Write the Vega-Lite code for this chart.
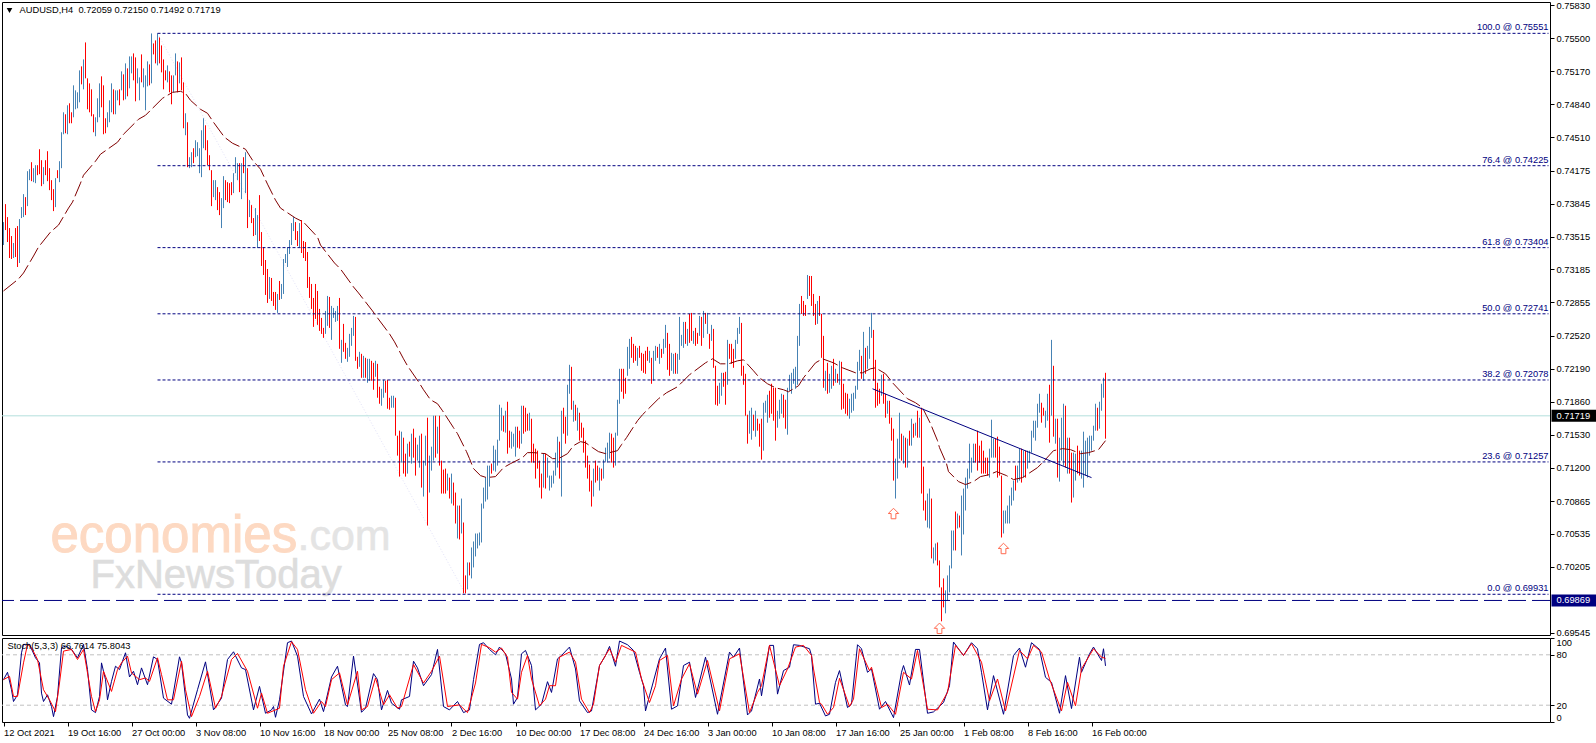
{"$schema":"https://vega.github.io/schema/vega-lite/v6.json","background":"white","padding":{"left":1,"top":0,"right":0,"bottom":0},"bounds":"flush","spacing":3,
"config":{"view":{"stroke":"#000000","strokeWidth":1},"font":"Liberation Sans","axis":{"labelFont":"Liberation Sans","labelFontSize":9.3,"labelColor":"#000000","tickColor":"#000000","tickSize":4,"domain":false,"grid":false,"title":null,"labelPadding":2,"labelOverlap":false,"labelBound":false}},
"datasets":{
"fib":[{"v":0.75551,"t":"100.0 @ 0.75551"},{"v":0.74225,"t":"76.4 @ 0.74225"},{"v":0.73404,"t":"61.8 @ 0.73404"},{"v":0.72741,"t":"50.0 @ 0.72741"},{"v":0.72078,"t":"38.2 @ 0.72078"},{"v":0.71257,"t":"23.6 @ 0.71257"},{"v":0.69931,"t":"0.0 @ 0.69931"}],
"bars":[{"i":0,"h":0.7366,"l":0.7343,"c":"u"},{"i":1,"h":0.7384,"l":0.7358,"c":"d"},{"i":2,"h":0.7371,"l":0.7346,"c":"d"},{"i":3,"h":0.7360,"l":0.7330,"c":"d"},{"i":4,"h":0.7352,"l":0.7329,"c":"d"},{"i":5,"h":0.7345,"l":0.7330,"c":"u"},{"i":6,"h":0.7360,"l":0.7331,"c":"d"},{"i":7,"h":0.7362,"l":0.7321,"c":"d"},{"i":8,"h":0.7369,"l":0.7325,"c":"u"},{"i":9,"h":0.7381,"l":0.7370,"c":"u"},{"i":10,"h":0.7394,"l":0.7371,"c":"u"},{"i":11,"h":0.7391,"l":0.7373,"c":"d"},{"i":12,"h":0.7417,"l":0.7382,"c":"u"},{"i":13,"h":0.7419,"l":0.7408,"c":"u"},{"i":14,"h":0.7426,"l":0.7407,"c":"d"},{"i":15,"h":0.7420,"l":0.7406,"c":"u"},{"i":16,"h":0.7423,"l":0.7405,"c":"u"},{"i":17,"h":0.7423,"l":0.7413,"c":"d"},{"i":18,"h":0.7439,"l":0.7414,"c":"d"},{"i":19,"h":0.7428,"l":0.7402,"c":"d"},{"i":20,"h":0.7421,"l":0.7404,"c":"u"},{"i":21,"h":0.7428,"l":0.7413,"c":"d"},{"i":22,"h":0.7437,"l":0.7407,"c":"d"},{"i":23,"h":0.7420,"l":0.7398,"c":"d"},{"i":24,"h":0.7408,"l":0.7388,"c":"d"},{"i":25,"h":0.7399,"l":0.7377,"c":"d"},{"i":26,"h":0.7410,"l":0.7381,"c":"u"},{"i":27,"h":0.7418,"l":0.7410,"c":"d"},{"i":28,"h":0.7427,"l":0.7406,"c":"u"},{"i":29,"h":0.7456,"l":0.7420,"c":"u"},{"i":30,"h":0.7476,"l":0.7454,"c":"u"},{"i":31,"h":0.7474,"l":0.7455,"c":"d"},{"i":32,"h":0.7483,"l":0.7454,"c":"u"},{"i":33,"h":0.7485,"l":0.7465,"c":"d"},{"i":34,"h":0.7476,"l":0.7465,"c":"d"},{"i":35,"h":0.7503,"l":0.7471,"c":"u"},{"i":36,"h":0.7498,"l":0.7479,"c":"u"},{"i":37,"h":0.7496,"l":0.7480,"c":"u"},{"i":38,"h":0.7518,"l":0.7486,"c":"u"},{"i":39,"h":0.7522,"l":0.7504,"c":"d"},{"i":40,"h":0.7529,"l":0.7499,"c":"u"},{"i":41,"h":0.7546,"l":0.7510,"c":"d"},{"i":42,"h":0.7510,"l":0.7479,"c":"d"},{"i":43,"h":0.7505,"l":0.7476,"c":"d"},{"i":44,"h":0.7499,"l":0.7472,"c":"d"},{"i":45,"h":0.7474,"l":0.7456,"c":"d"},{"i":46,"h":0.7471,"l":0.7452,"c":"u"},{"i":47,"h":0.7490,"l":0.7466,"c":"u"},{"i":48,"h":0.7505,"l":0.7471,"c":"u"},{"i":49,"h":0.7512,"l":0.7481,"c":"d"},{"i":50,"h":0.7503,"l":0.7454,"c":"d"},{"i":51,"h":0.7470,"l":0.7455,"c":"d"},{"i":52,"h":0.7476,"l":0.7461,"c":"u"},{"i":53,"h":0.7488,"l":0.7466,"c":"u"},{"i":54,"h":0.7505,"l":0.7476,"c":"u"},{"i":55,"h":0.7499,"l":0.7474,"c":"d"},{"i":56,"h":0.7498,"l":0.7474,"c":"u"},{"i":57,"h":0.7498,"l":0.7488,"c":"u"},{"i":58,"h":0.7499,"l":0.7483,"c":"d"},{"i":59,"h":0.7517,"l":0.7498,"c":"u"},{"i":60,"h":0.7514,"l":0.7488,"c":"d"},{"i":61,"h":0.7525,"l":0.7489,"c":"u"},{"i":62,"h":0.7520,"l":0.7492,"c":"d"},{"i":63,"h":0.7532,"l":0.7500,"c":"u"},{"i":64,"h":0.7532,"l":0.7515,"c":"u"},{"i":65,"h":0.7535,"l":0.7508,"c":"d"},{"i":66,"h":0.7531,"l":0.7487,"c":"d"},{"i":67,"h":0.7520,"l":0.7505,"c":"u"},{"i":68,"h":0.7511,"l":0.7488,"c":"u"},{"i":69,"h":0.7534,"l":0.7506,"c":"d"},{"i":70,"h":0.7520,"l":0.7501,"c":"u"},{"i":71,"h":0.7513,"l":0.7478,"c":"u"},{"i":72,"h":0.7527,"l":0.7502,"c":"u"},{"i":73,"h":0.7524,"l":0.7503,"c":"d"},{"i":74,"h":0.7555,"l":0.7505,"c":"u"},{"i":75,"h":0.7545,"l":0.7534,"c":"d"},{"i":76,"h":0.7548,"l":0.7525,"c":"d"},{"i":77,"h":0.7555,"l":0.7523,"c":"u"},{"i":78,"h":0.7551,"l":0.7525,"c":"d"},{"i":79,"h":0.7543,"l":0.7516,"c":"d"},{"i":80,"h":0.7529,"l":0.7499,"c":"d"},{"i":81,"h":0.7518,"l":0.7508,"c":"d"},{"i":82,"h":0.7523,"l":0.7506,"c":"u"},{"i":83,"h":0.7517,"l":0.7496,"c":"d"},{"i":84,"h":0.7513,"l":0.7484,"c":"d"},{"i":85,"h":0.7513,"l":0.7496,"c":"u"},{"i":86,"h":0.7535,"l":0.7513,"c":"u"},{"i":87,"h":0.7527,"l":0.7496,"c":"d"},{"i":88,"h":0.7526,"l":0.7505,"c":"u"},{"i":89,"h":0.7531,"l":0.7498,"c":"d"},{"i":90,"h":0.7506,"l":0.7460,"c":"d"},{"i":91,"h":0.7475,"l":0.7453,"c":"u"},{"i":92,"h":0.7466,"l":0.7421,"c":"d"},{"i":93,"h":0.7431,"l":0.7420,"c":"u"},{"i":94,"h":0.7436,"l":0.7421,"c":"u"},{"i":95,"h":0.7440,"l":0.7425,"c":"d"},{"i":96,"h":0.7448,"l":0.7431,"c":"u"},{"i":97,"h":0.7446,"l":0.7432,"c":"u"},{"i":98,"h":0.7440,"l":0.7415,"c":"u"},{"i":99,"h":0.7458,"l":0.7411,"c":"u"},{"i":100,"h":0.7470,"l":0.7440,"c":"u"},{"i":101,"h":0.7463,"l":0.7438,"c":"d"},{"i":102,"h":0.7448,"l":0.7423,"c":"d"},{"i":103,"h":0.7433,"l":0.7418,"c":"d"},{"i":104,"h":0.7418,"l":0.7382,"c":"d"},{"i":105,"h":0.7408,"l":0.7391,"c":"u"},{"i":106,"h":0.7408,"l":0.7388,"c":"u"},{"i":107,"h":0.7401,"l":0.7378,"c":"d"},{"i":108,"h":0.7396,"l":0.7373,"c":"d"},{"i":109,"h":0.7390,"l":0.7360,"c":"u"},{"i":110,"h":0.7412,"l":0.7380,"c":"u"},{"i":111,"h":0.7408,"l":0.7388,"c":"d"},{"i":112,"h":0.7406,"l":0.7386,"c":"d"},{"i":113,"h":0.7405,"l":0.7385,"c":"d"},{"i":114,"h":0.7406,"l":0.7393,"c":"d"},{"i":115,"h":0.7415,"l":0.7395,"c":"u"},{"i":116,"h":0.7431,"l":0.7415,"c":"u"},{"i":117,"h":0.7425,"l":0.7408,"c":"u"},{"i":118,"h":0.7425,"l":0.7396,"c":"d"},{"i":119,"h":0.7425,"l":0.7389,"c":"u"},{"i":120,"h":0.7431,"l":0.7415,"c":"d"},{"i":121,"h":0.7436,"l":0.7395,"c":"u"},{"i":122,"h":0.7420,"l":0.7360,"c":"d"},{"i":123,"h":0.7388,"l":0.7371,"c":"u"},{"i":124,"h":0.7383,"l":0.7365,"c":"d"},{"i":125,"h":0.7370,"l":0.7352,"c":"d"},{"i":126,"h":0.7380,"l":0.7353,"c":"u"},{"i":127,"h":0.7373,"l":0.7340,"c":"u"},{"i":128,"h":0.7393,"l":0.7347,"c":"d"},{"i":129,"h":0.7356,"l":0.7322,"c":"d"},{"i":130,"h":0.7341,"l":0.7313,"c":"d"},{"i":131,"h":0.7328,"l":0.7293,"c":"d"},{"i":132,"h":0.7319,"l":0.7285,"c":"d"},{"i":133,"h":0.7311,"l":0.7289,"c":"u"},{"i":134,"h":0.7310,"l":0.7287,"c":"d"},{"i":135,"h":0.7296,"l":0.7282,"c":"d"},{"i":136,"h":0.7296,"l":0.7278,"c":"d"},{"i":137,"h":0.7294,"l":0.7275,"c":"u"},{"i":138,"h":0.7307,"l":0.7288,"c":"d"},{"i":139,"h":0.7304,"l":0.7289,"c":"u"},{"i":140,"h":0.7329,"l":0.7294,"c":"u"},{"i":141,"h":0.7334,"l":0.7325,"c":"u"},{"i":142,"h":0.7341,"l":0.7321,"c":"u"},{"i":143,"h":0.7348,"l":0.7334,"c":"u"},{"i":144,"h":0.7365,"l":0.7343,"c":"u"},{"i":145,"h":0.7371,"l":0.7357,"c":"u"},{"i":146,"h":0.7366,"l":0.7348,"c":"d"},{"i":147,"h":0.7357,"l":0.7342,"c":"d"},{"i":148,"h":0.7365,"l":0.7341,"c":"u"},{"i":149,"h":0.7368,"l":0.7335,"c":"d"},{"i":150,"h":0.7347,"l":0.7330,"c":"d"},{"i":151,"h":0.7346,"l":0.7327,"c":"d"},{"i":152,"h":0.7336,"l":0.7300,"c":"d"},{"i":153,"h":0.7311,"l":0.7290,"c":"d"},{"i":154,"h":0.7304,"l":0.7279,"c":"d"},{"i":155,"h":0.7290,"l":0.7261,"c":"d"},{"i":156,"h":0.7304,"l":0.7269,"c":"d"},{"i":157,"h":0.7297,"l":0.7263,"c":"d"},{"i":158,"h":0.7279,"l":0.7257,"c":"d"},{"i":159,"h":0.7270,"l":0.7254,"c":"d"},{"i":160,"h":0.7260,"l":0.7250,"c":"d"},{"i":161,"h":0.7277,"l":0.7254,"c":"u"},{"i":162,"h":0.7292,"l":0.7262,"c":"u"},{"i":163,"h":0.7291,"l":0.7260,"c":"d"},{"i":164,"h":0.7282,"l":0.7248,"c":"u"},{"i":165,"h":0.7280,"l":0.7270,"c":"u"},{"i":166,"h":0.7277,"l":0.7266,"c":"u"},{"i":167,"h":0.7282,"l":0.7267,"c":"u"},{"i":168,"h":0.7290,"l":0.7239,"c":"d"},{"i":169,"h":0.7248,"l":0.7225,"c":"u"},{"i":170,"h":0.7264,"l":0.7236,"c":"d"},{"i":171,"h":0.7245,"l":0.7229,"c":"d"},{"i":172,"h":0.7240,"l":0.7226,"c":"u"},{"i":173,"h":0.7254,"l":0.7231,"c":"u"},{"i":174,"h":0.7260,"l":0.7242,"c":"u"},{"i":175,"h":0.7272,"l":0.7252,"c":"u"},{"i":176,"h":0.7271,"l":0.7227,"c":"d"},{"i":177,"h":0.7231,"l":0.7219,"c":"d"},{"i":178,"h":0.7236,"l":0.7221,"c":"u"},{"i":179,"h":0.7234,"l":0.7210,"c":"d"},{"i":180,"h":0.7232,"l":0.7210,"c":"u"},{"i":181,"h":0.7230,"l":0.7210,"c":"d"},{"i":182,"h":0.7229,"l":0.7205,"c":"u"},{"i":183,"h":0.7229,"l":0.7207,"c":"u"},{"i":184,"h":0.7227,"l":0.7207,"c":"d"},{"i":185,"h":0.7225,"l":0.7198,"c":"d"},{"i":186,"h":0.7227,"l":0.7211,"c":"u"},{"i":187,"h":0.7224,"l":0.7190,"c":"d"},{"i":188,"h":0.7201,"l":0.7184,"c":"d"},{"i":189,"h":0.7199,"l":0.7182,"c":"u"},{"i":190,"h":0.7208,"l":0.7190,"c":"u"},{"i":191,"h":0.7207,"l":0.7195,"c":"d"},{"i":192,"h":0.7208,"l":0.7179,"c":"d"},{"i":193,"h":0.7190,"l":0.7178,"c":"d"},{"i":194,"h":0.7192,"l":0.7180,"c":"u"},{"i":195,"h":0.7192,"l":0.7180,"c":"u"},{"i":196,"h":0.7190,"l":0.7152,"c":"d"},{"i":197,"h":0.7152,"l":0.7132,"c":"d"},{"i":198,"h":0.7157,"l":0.7111,"c":"d"},{"i":199,"h":0.7156,"l":0.7125,"c":"u"},{"i":200,"h":0.7150,"l":0.7114,"c":"d"},{"i":201,"h":0.7134,"l":0.7111,"c":"d"},{"i":202,"h":0.7144,"l":0.7114,"c":"u"},{"i":203,"h":0.7146,"l":0.7131,"c":"d"},{"i":204,"h":0.7154,"l":0.7124,"c":"u"},{"i":205,"h":0.7159,"l":0.7130,"c":"d"},{"i":206,"h":0.7150,"l":0.7112,"c":"d"},{"i":207,"h":0.7143,"l":0.7127,"c":"u"},{"i":208,"h":0.7152,"l":0.7120,"c":"u"},{"i":209,"h":0.7154,"l":0.7100,"c":"d"},{"i":210,"h":0.7127,"l":0.7091,"c":"u"},{"i":211,"h":0.7152,"l":0.7122,"c":"u"},{"i":212,"h":0.7170,"l":0.7062,"c":"d"},{"i":213,"h":0.7132,"l":0.7095,"c":"u"},{"i":214,"h":0.7141,"l":0.7117,"c":"u"},{"i":215,"h":0.7172,"l":0.7127,"c":"u"},{"i":216,"h":0.7172,"l":0.7130,"c":"d"},{"i":217,"h":0.7161,"l":0.7134,"c":"u"},{"i":218,"h":0.7172,"l":0.7122,"c":"d"},{"i":219,"h":0.7127,"l":0.7094,"c":"d"},{"i":220,"h":0.7118,"l":0.7094,"c":"d"},{"i":221,"h":0.7119,"l":0.7094,"c":"d"},{"i":222,"h":0.7114,"l":0.7097,"c":"u"},{"i":223,"h":0.7110,"l":0.7089,"c":"d"},{"i":224,"h":0.7114,"l":0.7084,"c":"u"},{"i":225,"h":0.7105,"l":0.7082,"c":"d"},{"i":226,"h":0.7095,"l":0.7064,"c":"d"},{"i":227,"h":0.7082,"l":0.7049,"c":"u"},{"i":228,"h":0.7082,"l":0.7048,"c":"d"},{"i":229,"h":0.7089,"l":0.7054,"c":"u"},{"i":230,"h":0.7065,"l":0.6994,"c":"d"},{"i":231,"h":0.7012,"l":0.6994,"c":"d"},{"i":232,"h":0.7025,"l":0.6998,"c":"u"},{"i":233,"h":0.7025,"l":0.7012,"c":"d"},{"i":234,"h":0.7040,"l":0.7009,"c":"u"},{"i":235,"h":0.7046,"l":0.7020,"c":"u"},{"i":236,"h":0.7054,"l":0.7031,"c":"u"},{"i":237,"h":0.7054,"l":0.7039,"c":"u"},{"i":238,"h":0.7055,"l":0.7042,"c":"u"},{"i":239,"h":0.7084,"l":0.7045,"c":"u"},{"i":240,"h":0.7100,"l":0.7079,"c":"u"},{"i":241,"h":0.7110,"l":0.7086,"c":"u"},{"i":242,"h":0.7122,"l":0.7088,"c":"u"},{"i":243,"h":0.7122,"l":0.7101,"c":"u"},{"i":244,"h":0.7124,"l":0.7114,"c":"d"},{"i":245,"h":0.7142,"l":0.7117,"c":"u"},{"i":246,"h":0.7138,"l":0.7116,"c":"u"},{"i":247,"h":0.7148,"l":0.7122,"c":"u"},{"i":248,"h":0.7183,"l":0.7147,"c":"u"},{"i":249,"h":0.7180,"l":0.7157,"c":"u"},{"i":250,"h":0.7172,"l":0.7156,"c":"d"},{"i":251,"h":0.7177,"l":0.7155,"c":"u"},{"i":252,"h":0.7186,"l":0.7134,"c":"d"},{"i":253,"h":0.7157,"l":0.7140,"c":"d"},{"i":254,"h":0.7156,"l":0.7139,"c":"u"},{"i":255,"h":0.7154,"l":0.7141,"c":"u"},{"i":256,"h":0.7161,"l":0.7131,"c":"u"},{"i":257,"h":0.7161,"l":0.7140,"c":"d"},{"i":258,"h":0.7157,"l":0.7139,"c":"d"},{"i":259,"h":0.7182,"l":0.7144,"c":"u"},{"i":260,"h":0.7182,"l":0.7154,"c":"d"},{"i":261,"h":0.7180,"l":0.7156,"c":"d"},{"i":262,"h":0.7174,"l":0.7157,"c":"d"},{"i":263,"h":0.7175,"l":0.7157,"c":"u"},{"i":264,"h":0.7169,"l":0.7125,"c":"d"},{"i":265,"h":0.7144,"l":0.7125,"c":"d"},{"i":266,"h":0.7139,"l":0.7109,"c":"d"},{"i":267,"h":0.7137,"l":0.7119,"c":"d"},{"i":268,"h":0.7127,"l":0.7100,"c":"d"},{"i":269,"h":0.7114,"l":0.7089,"c":"d"},{"i":270,"h":0.7134,"l":0.7100,"c":"u"},{"i":271,"h":0.7134,"l":0.7099,"c":"d"},{"i":272,"h":0.7130,"l":0.7110,"c":"u"},{"i":273,"h":0.7112,"l":0.7097,"c":"u"},{"i":274,"h":0.7112,"l":0.7100,"c":"u"},{"i":275,"h":0.7117,"l":0.7104,"c":"u"},{"i":276,"h":0.7135,"l":0.7112,"c":"u"},{"i":277,"h":0.7151,"l":0.7120,"c":"u"},{"i":278,"h":0.7146,"l":0.7109,"c":"d"},{"i":279,"h":0.7177,"l":0.7091,"c":"u"},{"i":280,"h":0.7180,"l":0.7154,"c":"d"},{"i":281,"h":0.7171,"l":0.7144,"c":"d"},{"i":282,"h":0.7203,"l":0.7152,"c":"u"},{"i":283,"h":0.7223,"l":0.7194,"c":"u"},{"i":284,"h":0.7221,"l":0.7178,"c":"d"},{"i":285,"h":0.7187,"l":0.7166,"c":"u"},{"i":286,"h":0.7183,"l":0.7167,"c":"d"},{"i":287,"h":0.7180,"l":0.7157,"c":"u"},{"i":288,"h":0.7175,"l":0.7147,"c":"d"},{"i":289,"h":0.7165,"l":0.7150,"c":"d"},{"i":290,"h":0.7160,"l":0.7135,"c":"d"},{"i":291,"h":0.7147,"l":0.7120,"c":"d"},{"i":292,"h":0.7132,"l":0.7109,"c":"d"},{"i":293,"h":0.7123,"l":0.7096,"c":"d"},{"i":294,"h":0.7107,"l":0.7081,"c":"d"},{"i":295,"h":0.7119,"l":0.7091,"c":"u"},{"i":296,"h":0.7127,"l":0.7105,"c":"d"},{"i":297,"h":0.7122,"l":0.7107,"c":"d"},{"i":298,"h":0.7120,"l":0.7097,"c":"u"},{"i":299,"h":0.7119,"l":0.7107,"c":"d"},{"i":300,"h":0.7128,"l":0.7109,"c":"u"},{"i":301,"h":0.7140,"l":0.7126,"c":"u"},{"i":302,"h":0.7145,"l":0.7125,"c":"u"},{"i":303,"h":0.7155,"l":0.7129,"c":"u"},{"i":304,"h":0.7154,"l":0.7125,"c":"d"},{"i":305,"h":0.7150,"l":0.7120,"c":"d"},{"i":306,"h":0.7155,"l":0.7122,"c":"u"},{"i":307,"h":0.7188,"l":0.7152,"c":"u"},{"i":308,"h":0.7219,"l":0.7184,"c":"u"},{"i":309,"h":0.7219,"l":0.7196,"c":"d"},{"i":310,"h":0.7219,"l":0.7189,"c":"d"},{"i":311,"h":0.7210,"l":0.7194,"c":"d"},{"i":312,"h":0.7241,"l":0.7212,"c":"u"},{"i":313,"h":0.7249,"l":0.7219,"c":"u"},{"i":314,"h":0.7251,"l":0.7230,"c":"d"},{"i":315,"h":0.7244,"l":0.7225,"c":"d"},{"i":316,"h":0.7242,"l":0.7227,"c":"d"},{"i":317,"h":0.7240,"l":0.7222,"c":"u"},{"i":318,"h":0.7242,"l":0.7230,"c":"d"},{"i":319,"h":0.7235,"l":0.7217,"c":"d"},{"i":320,"h":0.7234,"l":0.7215,"c":"d"},{"i":321,"h":0.7237,"l":0.7214,"c":"d"},{"i":322,"h":0.7241,"l":0.7227,"c":"d"},{"i":323,"h":0.7237,"l":0.7225,"c":"u"},{"i":324,"h":0.7230,"l":0.7204,"c":"d"},{"i":325,"h":0.7237,"l":0.7207,"c":"u"},{"i":326,"h":0.7242,"l":0.7227,"c":"u"},{"i":327,"h":0.7241,"l":0.7230,"c":"d"},{"i":328,"h":0.7244,"l":0.7224,"c":"u"},{"i":329,"h":0.7239,"l":0.7230,"c":"d"},{"i":330,"h":0.7249,"l":0.7234,"c":"u"},{"i":331,"h":0.7263,"l":0.7240,"c":"u"},{"i":332,"h":0.7255,"l":0.7218,"c":"d"},{"i":333,"h":0.7244,"l":0.7212,"c":"d"},{"i":334,"h":0.7235,"l":0.7217,"c":"u"},{"i":335,"h":0.7234,"l":0.7214,"c":"u"},{"i":336,"h":0.7235,"l":0.7214,"c":"d"},{"i":337,"h":0.7234,"l":0.7214,"c":"u"},{"i":338,"h":0.7271,"l":0.7228,"c":"u"},{"i":339,"h":0.7253,"l":0.7242,"c":"u"},{"i":340,"h":0.7266,"l":0.7240,"c":"u"},{"i":341,"h":0.7266,"l":0.7244,"c":"d"},{"i":342,"h":0.7259,"l":0.7242,"c":"u"},{"i":343,"h":0.7274,"l":0.7245,"c":"d"},{"i":344,"h":0.7275,"l":0.7247,"c":"d"},{"i":345,"h":0.7257,"l":0.7244,"c":"u"},{"i":346,"h":0.7260,"l":0.7242,"c":"d"},{"i":347,"h":0.7255,"l":0.7244,"c":"d"},{"i":348,"h":0.7272,"l":0.7252,"c":"u"},{"i":349,"h":0.7271,"l":0.7242,"c":"d"},{"i":350,"h":0.7277,"l":0.7250,"c":"u"},{"i":351,"h":0.7275,"l":0.7264,"c":"d"},{"i":352,"h":0.7275,"l":0.7254,"c":"u"},{"i":353,"h":0.7254,"l":0.7239,"c":"d"},{"i":354,"h":0.7263,"l":0.7247,"c":"u"},{"i":355,"h":0.7259,"l":0.7220,"c":"d"},{"i":356,"h":0.7222,"l":0.7183,"c":"d"},{"i":357,"h":0.7202,"l":0.7182,"c":"d"},{"i":358,"h":0.7205,"l":0.7184,"c":"u"},{"i":359,"h":0.7215,"l":0.7192,"c":"u"},{"i":360,"h":0.7215,"l":0.7201,"c":"d"},{"i":361,"h":0.7216,"l":0.7183,"c":"d"},{"i":362,"h":0.7248,"l":0.7203,"c":"u"},{"i":363,"h":0.7244,"l":0.7229,"c":"d"},{"i":364,"h":0.7244,"l":0.7224,"c":"d"},{"i":365,"h":0.7239,"l":0.7220,"c":"d"},{"i":366,"h":0.7248,"l":0.7229,"c":"u"},{"i":367,"h":0.7260,"l":0.7244,"c":"u"},{"i":368,"h":0.7271,"l":0.7254,"c":"u"},{"i":369,"h":0.7265,"l":0.7212,"c":"d"},{"i":370,"h":0.7222,"l":0.7203,"c":"d"},{"i":371,"h":0.7214,"l":0.7172,"c":"d"},{"i":372,"h":0.7173,"l":0.7144,"c":"d"},{"i":373,"h":0.7177,"l":0.7154,"c":"u"},{"i":374,"h":0.7180,"l":0.7148,"c":"u"},{"i":375,"h":0.7173,"l":0.7157,"c":"d"},{"i":376,"h":0.7177,"l":0.7151,"c":"u"},{"i":377,"h":0.7169,"l":0.7157,"c":"d"},{"i":378,"h":0.7164,"l":0.7141,"c":"d"},{"i":379,"h":0.7169,"l":0.7128,"c":"d"},{"i":380,"h":0.7185,"l":0.7137,"c":"u"},{"i":381,"h":0.7187,"l":0.7175,"c":"u"},{"i":382,"h":0.7193,"l":0.7165,"c":"u"},{"i":383,"h":0.7197,"l":0.7170,"c":"d"},{"i":384,"h":0.7204,"l":0.7174,"c":"d"},{"i":385,"h":0.7200,"l":0.7167,"c":"d"},{"i":386,"h":0.7200,"l":0.7147,"c":"d"},{"i":387,"h":0.7177,"l":0.7160,"c":"u"},{"i":388,"h":0.7188,"l":0.7169,"c":"u"},{"i":389,"h":0.7194,"l":0.7174,"c":"u"},{"i":390,"h":0.7193,"l":0.7170,"c":"d"},{"i":391,"h":0.7188,"l":0.7159,"c":"d"},{"i":392,"h":0.7200,"l":0.7153,"c":"u"},{"i":393,"h":0.7213,"l":0.7197,"c":"u"},{"i":394,"h":0.7215,"l":0.7194,"c":"u"},{"i":395,"h":0.7219,"l":0.7204,"c":"u"},{"i":396,"h":0.7221,"l":0.7199,"c":"u"},{"i":397,"h":0.7252,"l":0.7203,"c":"u"},{"i":398,"h":0.7284,"l":0.7242,"c":"u"},{"i":399,"h":0.7292,"l":0.7274,"c":"d"},{"i":400,"h":0.7287,"l":0.7272,"c":"d"},{"i":401,"h":0.7283,"l":0.7272,"c":"d"},{"i":402,"h":0.7313,"l":0.7289,"c":"u"},{"i":403,"h":0.7312,"l":0.7292,"c":"d"},{"i":404,"h":0.7312,"l":0.7282,"c":"d"},{"i":405,"h":0.7294,"l":0.7272,"c":"d"},{"i":406,"h":0.7284,"l":0.7263,"c":"d"},{"i":407,"h":0.7287,"l":0.7264,"c":"u"},{"i":408,"h":0.7292,"l":0.7272,"c":"d"},{"i":409,"h":0.7274,"l":0.7230,"c":"d"},{"i":410,"h":0.7252,"l":0.7200,"c":"d"},{"i":411,"h":0.7217,"l":0.7197,"c":"u"},{"i":412,"h":0.7225,"l":0.7194,"c":"d"},{"i":413,"h":0.7214,"l":0.7195,"c":"u"},{"i":414,"h":0.7222,"l":0.7199,"c":"u"},{"i":415,"h":0.7229,"l":0.7202,"c":"d"},{"i":416,"h":0.7219,"l":0.7205,"c":"u"},{"i":417,"h":0.7214,"l":0.7205,"c":"d"},{"i":418,"h":0.7227,"l":0.7203,"c":"u"},{"i":419,"h":0.7226,"l":0.7178,"c":"d"},{"i":420,"h":0.7204,"l":0.7179,"c":"d"},{"i":421,"h":0.7195,"l":0.7174,"c":"d"},{"i":422,"h":0.7194,"l":0.7172,"c":"d"},{"i":423,"h":0.7189,"l":0.7169,"c":"u"},{"i":424,"h":0.7194,"l":0.7175,"c":"u"},{"i":425,"h":0.7195,"l":0.7177,"c":"u"},{"i":426,"h":0.7202,"l":0.7189,"c":"u"},{"i":427,"h":0.7226,"l":0.7198,"c":"u"},{"i":428,"h":0.7238,"l":0.7217,"c":"u"},{"i":429,"h":0.7232,"l":0.7209,"c":"d"},{"i":430,"h":0.7256,"l":0.7207,"c":"u"},{"i":431,"h":0.7240,"l":0.7214,"c":"d"},{"i":432,"h":0.7242,"l":0.7219,"c":"u"},{"i":433,"h":0.7261,"l":0.7229,"c":"u"},{"i":434,"h":0.7275,"l":0.7250,"c":"u"},{"i":435,"h":0.7258,"l":0.7207,"c":"d"},{"i":436,"h":0.7228,"l":0.7180,"c":"d"},{"i":437,"h":0.7205,"l":0.7182,"c":"d"},{"i":438,"h":0.7199,"l":0.7184,"c":"d"},{"i":439,"h":0.7213,"l":0.7192,"c":"u"},{"i":440,"h":0.7214,"l":0.7184,"c":"d"},{"i":441,"h":0.7194,"l":0.7170,"c":"d"},{"i":442,"h":0.7187,"l":0.7174,"c":"u"},{"i":443,"h":0.7187,"l":0.7164,"c":"d"},{"i":444,"h":0.7170,"l":0.7147,"c":"d"},{"i":445,"h":0.7159,"l":0.7107,"c":"d"},{"i":446,"h":0.7129,"l":0.7089,"c":"u"},{"i":447,"h":0.7149,"l":0.7109,"c":"u"},{"i":448,"h":0.7175,"l":0.7129,"c":"u"},{"i":449,"h":0.7154,"l":0.7127,"c":"d"},{"i":450,"h":0.7152,"l":0.7124,"c":"u"},{"i":451,"h":0.7150,"l":0.7120,"c":"d"},{"i":452,"h":0.7149,"l":0.7120,"c":"u"},{"i":453,"h":0.7157,"l":0.7142,"c":"d"},{"i":454,"h":0.7169,"l":0.7142,"c":"u"},{"i":455,"h":0.7164,"l":0.7150,"c":"d"},{"i":456,"h":0.7165,"l":0.7152,"c":"u"},{"i":457,"h":0.7177,"l":0.7150,"c":"d"},{"i":458,"h":0.7170,"l":0.7150,"c":"u"},{"i":459,"h":0.7180,"l":0.7094,"c":"d"},{"i":460,"h":0.7121,"l":0.7077,"c":"d"},{"i":461,"h":0.7087,"l":0.7067,"c":"d"},{"i":462,"h":0.7094,"l":0.7060,"c":"u"},{"i":463,"h":0.7099,"l":0.7059,"c":"u"},{"i":464,"h":0.7089,"l":0.7029,"c":"d"},{"i":465,"h":0.7040,"l":0.7024,"c":"u"},{"i":466,"h":0.7044,"l":0.7027,"c":"u"},{"i":467,"h":0.7045,"l":0.7022,"c":"d"},{"i":468,"h":0.7027,"l":0.7000,"c":"d"},{"i":469,"h":0.7000,"l":0.6966,"c":"d"},{"i":470,"h":0.7009,"l":0.6980,"c":"d"},{"i":471,"h":0.6997,"l":0.6974,"c":"u"},{"i":472,"h":0.7012,"l":0.6987,"c":"u"},{"i":473,"h":0.7022,"l":0.6995,"c":"u"},{"i":474,"h":0.7057,"l":0.7019,"c":"u"},{"i":475,"h":0.7057,"l":0.7037,"c":"u"},{"i":476,"h":0.7076,"l":0.7037,"c":"d"},{"i":477,"h":0.7074,"l":0.7059,"c":"u"},{"i":478,"h":0.7072,"l":0.7060,"c":"d"},{"i":479,"h":0.7092,"l":0.7032,"c":"u"},{"i":480,"h":0.7099,"l":0.7053,"c":"u"},{"i":481,"h":0.7110,"l":0.7077,"c":"u"},{"i":482,"h":0.7119,"l":0.7099,"c":"u"},{"i":483,"h":0.7144,"l":0.7109,"c":"u"},{"i":484,"h":0.7130,"l":0.7115,"c":"u"},{"i":485,"h":0.7144,"l":0.7125,"c":"u"},{"i":486,"h":0.7144,"l":0.7125,"c":"d"},{"i":487,"h":0.7157,"l":0.7117,"c":"d"},{"i":488,"h":0.7142,"l":0.7125,"c":"d"},{"i":489,"h":0.7147,"l":0.7114,"c":"d"},{"i":490,"h":0.7137,"l":0.7114,"c":"d"},{"i":491,"h":0.7130,"l":0.7114,"c":"d"},{"i":492,"h":0.7130,"l":0.7112,"c":"d"},{"i":493,"h":0.7139,"l":0.7110,"c":"u"},{"i":494,"h":0.7168,"l":0.7130,"c":"u"},{"i":495,"h":0.7149,"l":0.7130,"c":"u"},{"i":496,"h":0.7149,"l":0.7130,"c":"d"},{"i":497,"h":0.7151,"l":0.7110,"c":"d"},{"i":498,"h":0.7141,"l":0.7112,"c":"d"},{"i":499,"h":0.7112,"l":0.7050,"c":"d"},{"i":500,"h":0.7077,"l":0.7054,"c":"u"},{"i":501,"h":0.7077,"l":0.7064,"c":"u"},{"i":502,"h":0.7082,"l":0.7064,"c":"u"},{"i":503,"h":0.7092,"l":0.7064,"c":"u"},{"i":504,"h":0.7100,"l":0.7082,"c":"u"},{"i":505,"h":0.7107,"l":0.7087,"c":"u"},{"i":506,"h":0.7122,"l":0.7097,"c":"d"},{"i":507,"h":0.7122,"l":0.7105,"c":"u"},{"i":508,"h":0.7139,"l":0.7107,"c":"u"},{"i":509,"h":0.7139,"l":0.7105,"c":"d"},{"i":510,"h":0.7137,"l":0.7110,"c":"u"},{"i":511,"h":0.7137,"l":0.7110,"c":"d"},{"i":512,"h":0.7137,"l":0.7119,"c":"u"},{"i":513,"h":0.7137,"l":0.7125,"c":"u"},{"i":514,"h":0.7157,"l":0.7135,"c":"u"},{"i":515,"h":0.7167,"l":0.7150,"c":"u"},{"i":516,"h":0.7167,"l":0.7147,"c":"u"},{"i":517,"h":0.7184,"l":0.7160,"c":"u"},{"i":518,"h":0.7194,"l":0.7175,"c":"u"},{"i":519,"h":0.7185,"l":0.7165,"c":"d"},{"i":520,"h":0.7180,"l":0.7172,"c":"d"},{"i":521,"h":0.7177,"l":0.7160,"c":"u"},{"i":522,"h":0.7194,"l":0.7167,"c":"u"},{"i":523,"h":0.7203,"l":0.7145,"c":"d"},{"i":524,"h":0.7248,"l":0.7172,"c":"u"},{"i":525,"h":0.7222,"l":0.7151,"c":"d"},{"i":526,"h":0.7169,"l":0.7144,"c":"u"},{"i":527,"h":0.7169,"l":0.7110,"c":"d"},{"i":528,"h":0.7150,"l":0.7106,"c":"u"},{"i":529,"h":0.7170,"l":0.7127,"c":"u"},{"i":530,"h":0.7184,"l":0.7122,"c":"u"},{"i":531,"h":0.7182,"l":0.7120,"c":"d"},{"i":532,"h":0.7150,"l":0.7114,"c":"u"},{"i":533,"h":0.7150,"l":0.7114,"c":"d"},{"i":534,"h":0.7135,"l":0.7085,"c":"d"},{"i":535,"h":0.7135,"l":0.7090,"c":"u"},{"i":536,"h":0.7134,"l":0.7107,"c":"u"},{"i":537,"h":0.7142,"l":0.7114,"c":"d"},{"i":538,"h":0.7137,"l":0.7112,"c":"d"},{"i":539,"h":0.7137,"l":0.7109,"c":"u"},{"i":540,"h":0.7156,"l":0.7100,"c":"u"},{"i":541,"h":0.7147,"l":0.7112,"c":"u"},{"i":542,"h":0.7150,"l":0.7110,"c":"u"},{"i":543,"h":0.7152,"l":0.7132,"c":"u"},{"i":544,"h":0.7152,"l":0.7137,"c":"u"},{"i":545,"h":0.7162,"l":0.7147,"c":"u"},{"i":546,"h":0.7184,"l":0.7157,"c":"u"},{"i":547,"h":0.7180,"l":0.7157,"c":"d"},{"i":548,"h":0.7186,"l":0.7159,"c":"u"},{"i":549,"h":0.7204,"l":0.7177,"c":"u"},{"i":550,"h":0.7210,"l":0.7190,"c":"u"},{"i":551,"h":0.7215,"l":0.7149,"c":"d"}],
"ma":[{"i":0,"v":0.7297},{"i":7.5,"v":0.7309},{"i":10,"v":0.7315},{"i":15,"v":0.7332},{"i":17.5,"v":0.7341},{"i":23.5,"v":0.7356},{"i":27.5,"v":0.7363},{"i":32.5,"v":0.7380},{"i":34.5,"v":0.7386},{"i":38.5,"v":0.7405},{"i":40,"v":0.7413},{"i":46,"v":0.7427},{"i":48.5,"v":0.7434},{"i":57,"v":0.7446},{"i":60,"v":0.7454},{"i":67.5,"v":0.7469},{"i":71,"v":0.7473},{"i":79.5,"v":0.7490},{"i":84.5,"v":0.7496},{"i":88.5,"v":0.7497},{"i":91,"v":0.7495},{"i":93.5,"v":0.7488},{"i":98.5,"v":0.7479},{"i":102,"v":0.7475},{"i":105,"v":0.7466},{"i":110.5,"v":0.7451},{"i":114.5,"v":0.7445},{"i":121,"v":0.7439},{"i":124.5,"v":0.7428},{"i":128.5,"v":0.7419},{"i":132,"v":0.7404},{"i":136,"v":0.7388},{"i":138.5,"v":0.7380},{"i":146,"v":0.7370},{"i":150,"v":0.7366},{"i":157,"v":0.7351},{"i":158.5,"v":0.7343},{"i":165.5,"v":0.7325},{"i":168.5,"v":0.7319},{"i":175,"v":0.7301},{"i":177.5,"v":0.7295},{"i":184.5,"v":0.7277},{"i":187,"v":0.7270},{"i":193,"v":0.7254},{"i":195.5,"v":0.7246},{"i":200,"v":0.7229},{"i":202,"v":0.7222},{"i":207.5,"v":0.7206},{"i":210,"v":0.7198},{"i":213.5,"v":0.7188},{"i":217,"v":0.7184},{"i":219.5,"v":0.7177},{"i":225,"v":0.7160},{"i":227,"v":0.7154},{"i":231.5,"v":0.7136},{"i":233,"v":0.7129},{"i":235,"v":0.7119},{"i":238.5,"v":0.7112},{"i":241.5,"v":0.7110},{"i":246,"v":0.7111},{"i":250,"v":0.7120},{"i":253.5,"v":0.7124},{"i":259.5,"v":0.7130},{"i":262,"v":0.7135},{"i":265,"v":0.7135},{"i":271,"v":0.7134},{"i":274.5,"v":0.7129},{"i":277.5,"v":0.7129},{"i":282,"v":0.7134},{"i":285,"v":0.7142},{"i":288.5,"v":0.7146},{"i":291,"v":0.7145},{"i":294.5,"v":0.7140},{"i":297.5,"v":0.7136},{"i":301,"v":0.7134},{"i":307,"v":0.7137},{"i":309,"v":0.7143},{"i":311.5,"v":0.7150},{"i":317,"v":0.7167},{"i":319.5,"v":0.7173},{"i":327.5,"v":0.7189},{"i":331.5,"v":0.7195},{"i":337,"v":0.7201},{"i":339.5,"v":0.7206},{"i":343,"v":0.7213},{"i":351,"v":0.7225},{"i":354.5,"v":0.7229},{"i":358.5,"v":0.7224},{"i":362.5,"v":0.7224},{"i":367,"v":0.7227},{"i":370,"v":0.7228},{"i":375,"v":0.7217},{"i":378,"v":0.7210},{"i":382,"v":0.7204},{"i":386,"v":0.7200},{"i":390,"v":0.7198},{"i":392.5,"v":0.7196},{"i":397.5,"v":0.7202},{"i":400,"v":0.7210},{"i":406,"v":0.7225},{"i":409.5,"v":0.7229},{"i":415,"v":0.7225},{"i":419.5,"v":0.7220},{"i":426,"v":0.7215},{"i":429.5,"v":0.7215},{"i":433.5,"v":0.7219},{"i":436,"v":0.7220},{"i":441,"v":0.7214},{"i":445,"v":0.7204},{"i":452,"v":0.7189},{"i":456,"v":0.7185},{"i":459.5,"v":0.7180},{"i":461.5,"v":0.7172},{"i":463.5,"v":0.7164},{"i":467,"v":0.7147},{"i":468,"v":0.7140},{"i":471.5,"v":0.7124},{"i":472.5,"v":0.7116},{"i":477.5,"v":0.7106},{"i":481,"v":0.7103},{"i":485,"v":0.7106},{"i":488.5,"v":0.7111},{"i":493,"v":0.7113},{"i":496.5,"v":0.7116},{"i":501.5,"v":0.7112},{"i":505,"v":0.7108},{"i":509.5,"v":0.7110},{"i":517,"v":0.7120},{"i":520,"v":0.7126},{"i":525,"v":0.7137},{"i":529.5,"v":0.7139},{"i":533.5,"v":0.7138},{"i":538.5,"v":0.7134},{"i":542.5,"v":0.7135},{"i":547.5,"v":0.7138},{"i":551,"v":0.7147}],
"k":[{"i":0,"v":50.4},{"i":2,"v":59.2},{"i":4,"v":38.4},{"i":5,"v":24.4},{"i":7,"v":32.4},{"i":9,"v":82.4},{"i":10,"v":92.4},{"i":13,"v":92.4},{"i":16,"v":76.4},{"i":18,"v":70.4},{"i":19,"v":34.4},{"i":20,"v":24.4},{"i":22,"v":32.4},{"i":24,"v":18.4},{"i":25,"v":6.4},{"i":27,"v":30.4},{"i":29,"v":88.4},{"i":31,"v":90.4},{"i":34,"v":86.4},{"i":37,"v":76.4},{"i":40,"v":92.4},{"i":42,"v":62.4},{"i":44,"v":14.4},{"i":46,"v":11.2},{"i":48,"v":30.4},{"i":49,"v":70.4},{"i":51,"v":50.4},{"i":52,"v":26.4},{"i":54,"v":48.4},{"i":56,"v":66.4},{"i":58,"v":62.4},{"i":61,"v":82.4},{"i":63,"v":53.6},{"i":65,"v":60.4},{"i":67,"v":44.4},{"i":69,"v":64.4},{"i":72,"v":44.4},{"i":75,"v":77.6},{"i":77,"v":74.4},{"i":80,"v":28.4},{"i":84,"v":21.2},{"i":88,"v":77.6},{"i":89,"v":70.4},{"i":92,"v":8.4},{"i":93,"v":4.4},{"i":97,"v":38.4},{"i":101,"v":71.6},{"i":105,"v":14.4},{"i":109,"v":28.4},{"i":112,"v":74.4},{"i":115,"v":83.6},{"i":119,"v":64.4},{"i":121,"v":62.4},{"i":125,"v":14.4},{"i":128,"v":42.4},{"i":131,"v":10.4},{"i":134,"v":14.4},{"i":135,"v":18.4},{"i":136,"v":5.6},{"i":138,"v":26.4},{"i":142,"v":94.4},{"i":144,"v":96.4},{"i":147,"v":78.4},{"i":150,"v":30.4},{"i":154,"v":9.6},{"i":158,"v":27.2},{"i":160,"v":12.4},{"i":164,"v":53.6},{"i":167,"v":66.4},{"i":171,"v":20.4},{"i":172,"v":18.4},{"i":175,"v":78.4},{"i":179,"v":11.6},{"i":181,"v":16.4},{"i":185,"v":57.6},{"i":187,"v":50.4},{"i":189,"v":14.4},{"i":192,"v":37.6},{"i":194,"v":22.4},{"i":198,"v":15.2},{"i":199,"v":26.4},{"i":203,"v":30.4},{"i":205,"v":72.4},{"i":207,"v":64.4},{"i":210,"v":43.2},{"i":214,"v":56.4},{"i":217,"v":86.4},{"i":220,"v":18.4},{"i":223,"v":14.4},{"i":227,"v":24.4},{"i":230,"v":11.2},{"i":233,"v":14.4},{"i":235,"v":50.4},{"i":238,"v":92.4},{"i":240,"v":94.4},{"i":243,"v":86.4},{"i":246,"v":80},{"i":248,"v":89.2},{"i":251,"v":81.2},{"i":254,"v":51.2},{"i":255,"v":21.2},{"i":257,"v":29.2},{"i":259,"v":81.2},{"i":261,"v":85.2},{"i":264,"v":67.2},{"i":266,"v":14.4},{"i":269,"v":21.2},{"i":272,"v":48},{"i":274,"v":35.2},{"i":277,"v":75.2},{"i":279,"v":79.2},{"i":283,"v":89.2},{"i":286,"v":63.2},{"i":288,"v":25.2},{"i":292,"v":11.2},{"i":294,"v":13.2},{"i":298,"v":67.2},{"i":301,"v":79.2},{"i":303,"v":90},{"i":306,"v":66.4},{"i":308,"v":96.4},{"i":312,"v":92},{"i":315,"v":85.2},{"i":318,"v":59.2},{"i":320,"v":43.2},{"i":321,"v":13.2},{"i":323,"v":31.2},{"i":328,"v":75.2},{"i":331,"v":88},{"i":334,"v":15.2},{"i":337,"v":19.2},{"i":340,"v":67.2},{"i":343,"v":71.2},{"i":346,"v":29.2},{"i":351,"v":77.2},{"i":357,"v":9.2},{"i":363,"v":83.2},{"i":365,"v":77.2},{"i":368,"v":88},{"i":372,"v":8.4},{"i":374,"v":13.2},{"i":378,"v":51.2},{"i":379,"v":31.2},{"i":383,"v":91.2},{"i":385,"v":91.2},{"i":387,"v":33.2},{"i":390,"v":61.2},{"i":393,"v":65.2},{"i":395,"v":92},{"i":398,"v":91.2},{"i":403,"v":87.2},{"i":404,"v":79.2},{"i":406,"v":21.2},{"i":408,"v":22.4},{"i":411,"v":7.2},{"i":413,"v":9.2},{"i":416,"v":47.2},{"i":418,"v":61.2},{"i":420,"v":39.2},{"i":422,"v":17.2},{"i":424,"v":21.2},{"i":427,"v":92},{"i":429,"v":87.2},{"i":432,"v":59.2},{"i":434,"v":63.2},{"i":438,"v":15.2},{"i":441,"v":24.4},{"i":445,"v":5.2},{"i":449,"v":59.2},{"i":450,"v":67.2},{"i":453,"v":44},{"i":456,"v":86.4},{"i":458,"v":86.4},{"i":462,"v":10.4},{"i":465,"v":12},{"i":470,"v":23.2},{"i":473,"v":43.2},{"i":475,"v":95.2},{"i":480,"v":79.2},{"i":484,"v":94.4},{"i":487,"v":87.2},{"i":489,"v":59.2},{"i":492,"v":14.4},{"i":495,"v":55.2},{"i":500,"v":9.2},{"i":505,"v":79.2},{"i":508,"v":88},{"i":511,"v":65.2},{"i":514,"v":94.4},{"i":518,"v":86.4},{"i":521,"v":53.2},{"i":524,"v":47.2},{"i":528,"v":10.4},{"i":531,"v":55.2},{"i":534,"v":16},{"i":538,"v":77.2},{"i":539,"v":59.2},{"i":543,"v":81.2},{"i":545,"v":89.2},{"i":549,"v":73.2},{"i":550,"v":87.2},{"i":551,"v":66.8}],
"s":[{"i":0,"v":50.4},{"i":3,"v":54.4},{"i":5,"v":30.4},{"i":7,"v":30.4},{"i":10,"v":70.4},{"i":12,"v":92.4},{"i":14,"v":88.4},{"i":17,"v":74.4},{"i":20,"v":38.4},{"i":23,"v":26.4},{"i":26,"v":12.4},{"i":28,"v":46.4},{"i":30,"v":84.4},{"i":34,"v":86.4},{"i":37,"v":74.4},{"i":40,"v":86.4},{"i":44,"v":30.4},{"i":46,"v":12.4},{"i":48,"v":26.4},{"i":50,"v":60.4},{"i":54,"v":36.4},{"i":57,"v":62.4},{"i":59,"v":70.4},{"i":62,"v":78.4},{"i":64,"v":58.4},{"i":68,"v":50.4},{"i":71,"v":52.4},{"i":73,"v":48.4},{"i":77,"v":76.4},{"i":79,"v":56.4},{"i":82,"v":26.4},{"i":85,"v":26.4},{"i":89,"v":72.4},{"i":91,"v":38.4},{"i":94,"v":6.4},{"i":98,"v":30.4},{"i":102,"v":60.4},{"i":106,"v":16.4},{"i":109,"v":30.4},{"i":114,"v":74.4},{"i":117,"v":81.6},{"i":122,"v":60.4},{"i":127,"v":16.4},{"i":129,"v":34.4},{"i":132,"v":10.4},{"i":138,"v":16.4},{"i":140,"v":66.4},{"i":144,"v":95.6},{"i":147,"v":86.4},{"i":151,"v":38.4},{"i":155,"v":10.4},{"i":159,"v":24.4},{"i":161,"v":18.4},{"i":164,"v":50.4},{"i":168,"v":58.4},{"i":172,"v":20.4},{"i":177,"v":60.4},{"i":179,"v":14.4},{"i":182,"v":18.4},{"i":186,"v":52.4},{"i":190,"v":20.4},{"i":193,"v":32.4},{"i":197,"v":16.4},{"i":199,"v":18.4},{"i":205,"v":68.4},{"i":210,"v":46.4},{"i":214,"v":60.4},{"i":218,"v":78.4},{"i":222,"v":18.4},{"i":228,"v":20.4},{"i":232,"v":11.2},{"i":236,"v":46.4},{"i":239,"v":92.4},{"i":243,"v":88.4},{"i":246,"v":83.2},{"i":249,"v":88},{"i":252,"v":77.2},{"i":254,"v":35.2},{"i":257,"v":27.2},{"i":259,"v":59.2},{"i":262,"v":79.2},{"i":264,"v":51.2},{"i":268,"v":19.2},{"i":271,"v":27.2},{"i":273,"v":43.2},{"i":276,"v":43.2},{"i":278,"v":77.2},{"i":283,"v":83.2},{"i":286,"v":71.2},{"i":289,"v":27.2},{"i":293,"v":11.2},{"i":295,"v":21.2},{"i":298,"v":67.2},{"i":303,"v":87.2},{"i":306,"v":71.2},{"i":309,"v":91.2},{"i":316,"v":83.2},{"i":319,"v":51.2},{"i":323,"v":23.2},{"i":326,"v":43.2},{"i":328,"v":73.2},{"i":332,"v":79.2},{"i":335,"v":19.2},{"i":339,"v":51.2},{"i":343,"v":69.2},{"i":347,"v":33.2},{"i":352,"v":73.2},{"i":358,"v":13.2},{"i":363,"v":75.2},{"i":368,"v":81.2},{"i":373,"v":11.2},{"i":377,"v":35.2},{"i":379,"v":43.2},{"i":383,"v":91.2},{"i":388,"v":43.2},{"i":392,"v":63.2},{"i":396,"v":89.2},{"i":400,"v":91.2},{"i":404,"v":79.2},{"i":405,"v":63.2},{"i":408,"v":23.2},{"i":409,"v":21.2},{"i":412,"v":9.2},{"i":415,"v":17.2},{"i":418,"v":52},{"i":423,"v":18.4},{"i":425,"v":27.2},{"i":428,"v":87.2},{"i":433,"v":61.2},{"i":434,"v":65.2},{"i":439,"v":17.2},{"i":442,"v":21.2},{"i":446,"v":9.2},{"i":450,"v":59.2},{"i":454,"v":51.2},{"i":457,"v":85.2},{"i":462,"v":15.2},{"i":467,"v":14.4},{"i":472,"v":35.2},{"i":476,"v":91.2},{"i":480,"v":79.2},{"i":484,"v":93.2},{"i":489,"v":71.2},{"i":493,"v":25.2},{"i":497,"v":51.2},{"i":501,"v":13.2},{"i":508,"v":85.2},{"i":512,"v":75.2},{"i":515,"v":91.2},{"i":519,"v":83.2},{"i":523,"v":51.2},{"i":529,"v":13.2},{"i":532,"v":47.2},{"i":536,"v":19.2},{"i":539,"v":63.2},{"i":545,"v":87.2},{"i":549,"v":77.2},{"i":551,"v":75.8}]
},
"vconcat":[
{"width":1548,"height":633,"layer":[
{"data":{"values":[{"t":"economies","i":23.5,"v":0.7050}]},"mark":{"type":"text","align":"left","fontSize":51,"color":"#fdd9c2","stroke":"#fdd9c2","strokeWidth":1},"encoding":{"x":{"field":"i","type":"quantitative","scale":{"domain":[-0.75,773.25],"nice":false,"zero":false},"axis":null},"y":{"field":"v","type":"quantitative","scale":{"domain":[0.69523,0.75865],"nice":false,"zero":false},"axis":{"orient":"right","labelOverlap":false,"tickCount":40,"values":[0.7583,0.755,0.7517,0.7484,0.7451,0.74175,0.73845,0.73515,0.73185,0.72855,0.7252,0.7219,0.7186,0.7153,0.712,0.70865,0.70535,0.70205,0.69545],"format":".5f"}},"text":{"field":"t"}}},
{"data":{"values":[{"t":".com","i":147,"v":0.7050}]},"mark":{"type":"text","align":"left","fontSize":43,"color":"#e4e4e4","stroke":"#e4e4e4","strokeWidth":0.5},"encoding":{"x":{"field":"i","type":"quantitative","scale":{"domain":[-0.75,773.25],"nice":false,"zero":false},"axis":null},"y":{"field":"v","type":"quantitative","scale":{"domain":[0.69523,0.75865],"nice":false,"zero":false}},"text":{"field":"t"}}},
{"data":{"values":[{"t":"FxNewsToday","i":43.5,"v":0.7011}]},"mark":{"type":"text","align":"left","fontSize":40,"color":"#dddddd","stroke":"#dddddd","strokeWidth":0.6},"encoding":{"x":{"field":"i","type":"quantitative","scale":{"domain":[-0.75,773.25],"nice":false,"zero":false},"axis":null},"y":{"field":"v","type":"quantitative","scale":{"domain":[0.69523,0.75865],"nice":false,"zero":false}},"text":{"field":"t"}}},
{"data":{"values":[{"i":77,"v":0.75551},{"i":231,"v":0.69931}]},"mark":{"type":"line","color":"#e2e2f8","strokeWidth":1,"strokeDash":[1,2]},"encoding":{"x":{"field":"i","type":"quantitative","scale":{"domain":[-0.75,773.25],"nice":false,"zero":false},"axis":null},"y":{"field":"v","type":"quantitative","scale":{"domain":[0.69523,0.75865],"nice":false,"zero":false}}}},
{"data":{"values":[{"v":0.71719}]},"mark":{"type":"rule","color":"#b4dfdc","strokeWidth":1},"encoding":{"y":{"field":"v","type":"quantitative","scale":{"domain":[0.69523,0.75865],"nice":false,"zero":false}}}},
{"data":{"name":"bars"},"mark":{"type":"rule","strokeWidth":1},"encoding":{"x":{"field":"i","type":"quantitative","scale":{"domain":[-0.75,773.25],"nice":false,"zero":false},"axis":null},"y":{"field":"h","type":"quantitative","scale":{"domain":[0.69523,0.75865],"nice":false,"zero":false}},"y2":{"field":"l"},"color":{"field":"c","type":"nominal","scale":{"domain":["u","d"],"range":["#4682b4","#ff0000"]},"legend":null}}},
{"data":{"name":"fib"},"mark":{"type":"rule","color":"#000080","strokeWidth":1,"strokeDash":[3,2]},"encoding":{"x":{"datum":77,"type":"quantitative","scale":{"domain":[-0.75,773.25],"nice":false,"zero":false},"axis":null},"x2":{"datum":772.5},"y":{"field":"v","type":"quantitative","scale":{"domain":[0.69523,0.75865],"nice":false,"zero":false}}}},
{"data":{"values":[{"v":0.69869}]},"mark":{"type":"rule","color":"#000080","strokeWidth":1,"strokeDash":[18,6]},"encoding":{"y":{"field":"v","type":"quantitative","scale":{"domain":[0.69523,0.75865],"nice":false,"zero":false}}}},
{"data":{"name":"ma"},"mark":{"type":"line","color":"#800000","strokeWidth":1,"strokeDash":[16,4]},"encoding":{"x":{"field":"i","type":"quantitative","scale":{"domain":[-0.75,773.25],"nice":false,"zero":false},"axis":null},"y":{"field":"v","type":"quantitative","scale":{"domain":[0.69523,0.75865],"nice":false,"zero":false}}}},
{"data":{"values":[{"i":434.5,"v":0.7199},{"i":544,"v":0.7110}]},"mark":{"type":"line","color":"#000080","strokeWidth":1},"encoding":{"x":{"field":"i","type":"quantitative","scale":{"domain":[-0.75,773.25],"nice":false,"zero":false},"axis":null},"y":{"field":"v","type":"quantitative","scale":{"domain":[0.69523,0.75865],"nice":false,"zero":false}}}},
{"data":{"values":[{"i":445,"v":0.7074},{"i":500,"v":0.7039},{"i":468,"v":0.6959}]},"mark":{"type":"point","shape":"M0,-1 L1,0 L0.45,0 L0.45,1 L-0.45,1 L-0.45,0 L-1,0 Z","size":110,"filled":false,"fill":"#ffffff","stroke":"#ff6a50","strokeWidth":1,"opacity":1},"encoding":{"x":{"field":"i","type":"quantitative","scale":{"domain":[-0.75,773.25],"nice":false,"zero":false},"axis":null},"y":{"field":"v","type":"quantitative","scale":{"domain":[0.69523,0.75865],"nice":false,"zero":false}}}},
{"data":{"name":"fib"},"mark":{"type":"text","align":"right","baseline":"middle","dy":-6,"fontSize":9.3,"color":"#000080"},"encoding":{"x":{"datum":772.5,"type":"quantitative","scale":{"domain":[-0.75,773.25],"nice":false,"zero":false},"axis":null},"y":{"field":"v","type":"quantitative","scale":{"domain":[0.69523,0.75865],"nice":false,"zero":false}},"text":{"field":"t"}}},
{"data":{"values":[{"v":0.71719,"t":"0.71719"}]},"mark":{"type":"rule","color":"#000000","strokeWidth":12},"encoding":{"x":{"datum":774,"type":"quantitative","scale":{"domain":[-0.75,773.25],"nice":false,"zero":false},"axis":null},"x2":{"datum":796.5},"y":{"field":"v","type":"quantitative","scale":{"domain":[0.69523,0.75865],"nice":false,"zero":false}}}},
{"data":{"values":[{"v":0.69869,"t":"0.69869"}]},"mark":{"type":"rule","color":"#000080","strokeWidth":12},"encoding":{"x":{"datum":774,"type":"quantitative","scale":{"domain":[-0.75,773.25],"nice":false,"zero":false},"axis":null},"x2":{"datum":796.5},"y":{"field":"v","type":"quantitative","scale":{"domain":[0.69523,0.75865],"nice":false,"zero":false}}}},
{"data":{"values":[{"v":0.71719,"t":"0.71719"},{"v":0.69869,"t":"0.69869"}]},"mark":{"type":"text","align":"left","baseline":"middle","fontSize":9.3,"color":"#ffffff"},"encoding":{"x":{"datum":776.5,"type":"quantitative","scale":{"domain":[-0.75,773.25],"nice":false,"zero":false},"axis":null},"y":{"field":"v","type":"quantitative","scale":{"domain":[0.69523,0.75865],"nice":false,"zero":false}},"text":{"field":"t"}}},
{"data":{"values":[{"i":3,"v":0.7578}]},"mark":{"type":"point","shape":"triangle-down","filled":true,"color":"#000000","size":32,"opacity":1},"encoding":{"x":{"field":"i","type":"quantitative","scale":{"domain":[-0.75,773.25],"nice":false,"zero":false},"axis":null},"y":{"field":"v","type":"quantitative","scale":{"domain":[0.69523,0.75865],"nice":false,"zero":false}}}},
{"data":{"values":[{"i":8,"v":0.7578,"t":"AUDUSD,H4\u00a0\u00a00.72059 0.72150 0.71492 0.71719"}]},"mark":{"type":"text","align":"left","baseline":"middle","fontSize":9.3,"color":"#000000"},"encoding":{"x":{"field":"i","type":"quantitative","scale":{"domain":[-0.75,773.25],"nice":false,"zero":false},"axis":null},"y":{"field":"v","type":"quantitative","scale":{"domain":[0.69523,0.75865],"nice":false,"zero":false}},"text":{"field":"t"}}}
]},
{"width":1548,"height":84,"layer":[
{"data":{"values":[{"v":80},{"v":20}]},"mark":{"type":"rule","color":"#c0c0c0","strokeWidth":1,"strokeDash":[4,3]},"encoding":{"y":{"field":"v","type":"quantitative","scale":{"domain":[0,100],"nice":false,"zero":false},"axis":{"orient":"right","values":[0,20,80,100],"tickCount":10,"labelFlush":true,"labelOverlap":false,"format":"d"}}}},
{"data":{"name":"k"},"mark":{"type":"line","color":"#000080","strokeWidth":1},"encoding":{"x":{"field":"i","type":"quantitative","scale":{"domain":[-0.75,773.25],"nice":false,"zero":false},"axis":{"orient":"bottom","labelOverlap":false,"values":[0,32,64,96,128,160,192,224,256,288,320,352,384,416,448,480,512,544],"labelAlign":"left","labelExpr":"['12 Oct 2021','19 Oct 16:00','27 Oct 00:00','3 Nov 08:00','10 Nov 16:00','18 Nov 00:00','25 Nov 08:00','2 Dec 16:00','10 Dec 00:00','17 Dec 08:00','24 Dec 16:00','3 Jan 00:00','10 Jan 08:00','17 Jan 16:00','25 Jan 00:00','1 Feb 08:00','8 Feb 16:00','16 Feb 00:00'][datum.value/32]"}},"y":{"field":"v","type":"quantitative","scale":{"domain":[0,100],"nice":false,"zero":false}}}},
{"data":{"name":"s"},"mark":{"type":"line","color":"#ff0000","strokeWidth":1},"encoding":{"x":{"field":"i","type":"quantitative","scale":{"domain":[-0.75,773.25],"nice":false,"zero":false}},"y":{"field":"v","type":"quantitative","scale":{"domain":[0,100],"nice":false,"zero":false}}}},
{"data":{"values":[{"i":2,"v":90.3,"t":"Stoch(5,3,3) 66.7614 75.8043"}]},"mark":{"type":"text","align":"left","baseline":"middle","fontSize":9.3,"color":"#000000"},"encoding":{"x":{"field":"i","type":"quantitative","scale":{"domain":[-0.75,773.25],"nice":false,"zero":false}},"y":{"field":"v","type":"quantitative","scale":{"domain":[0,100],"nice":false,"zero":false}},"text":{"field":"t"}}}
]}
]}
